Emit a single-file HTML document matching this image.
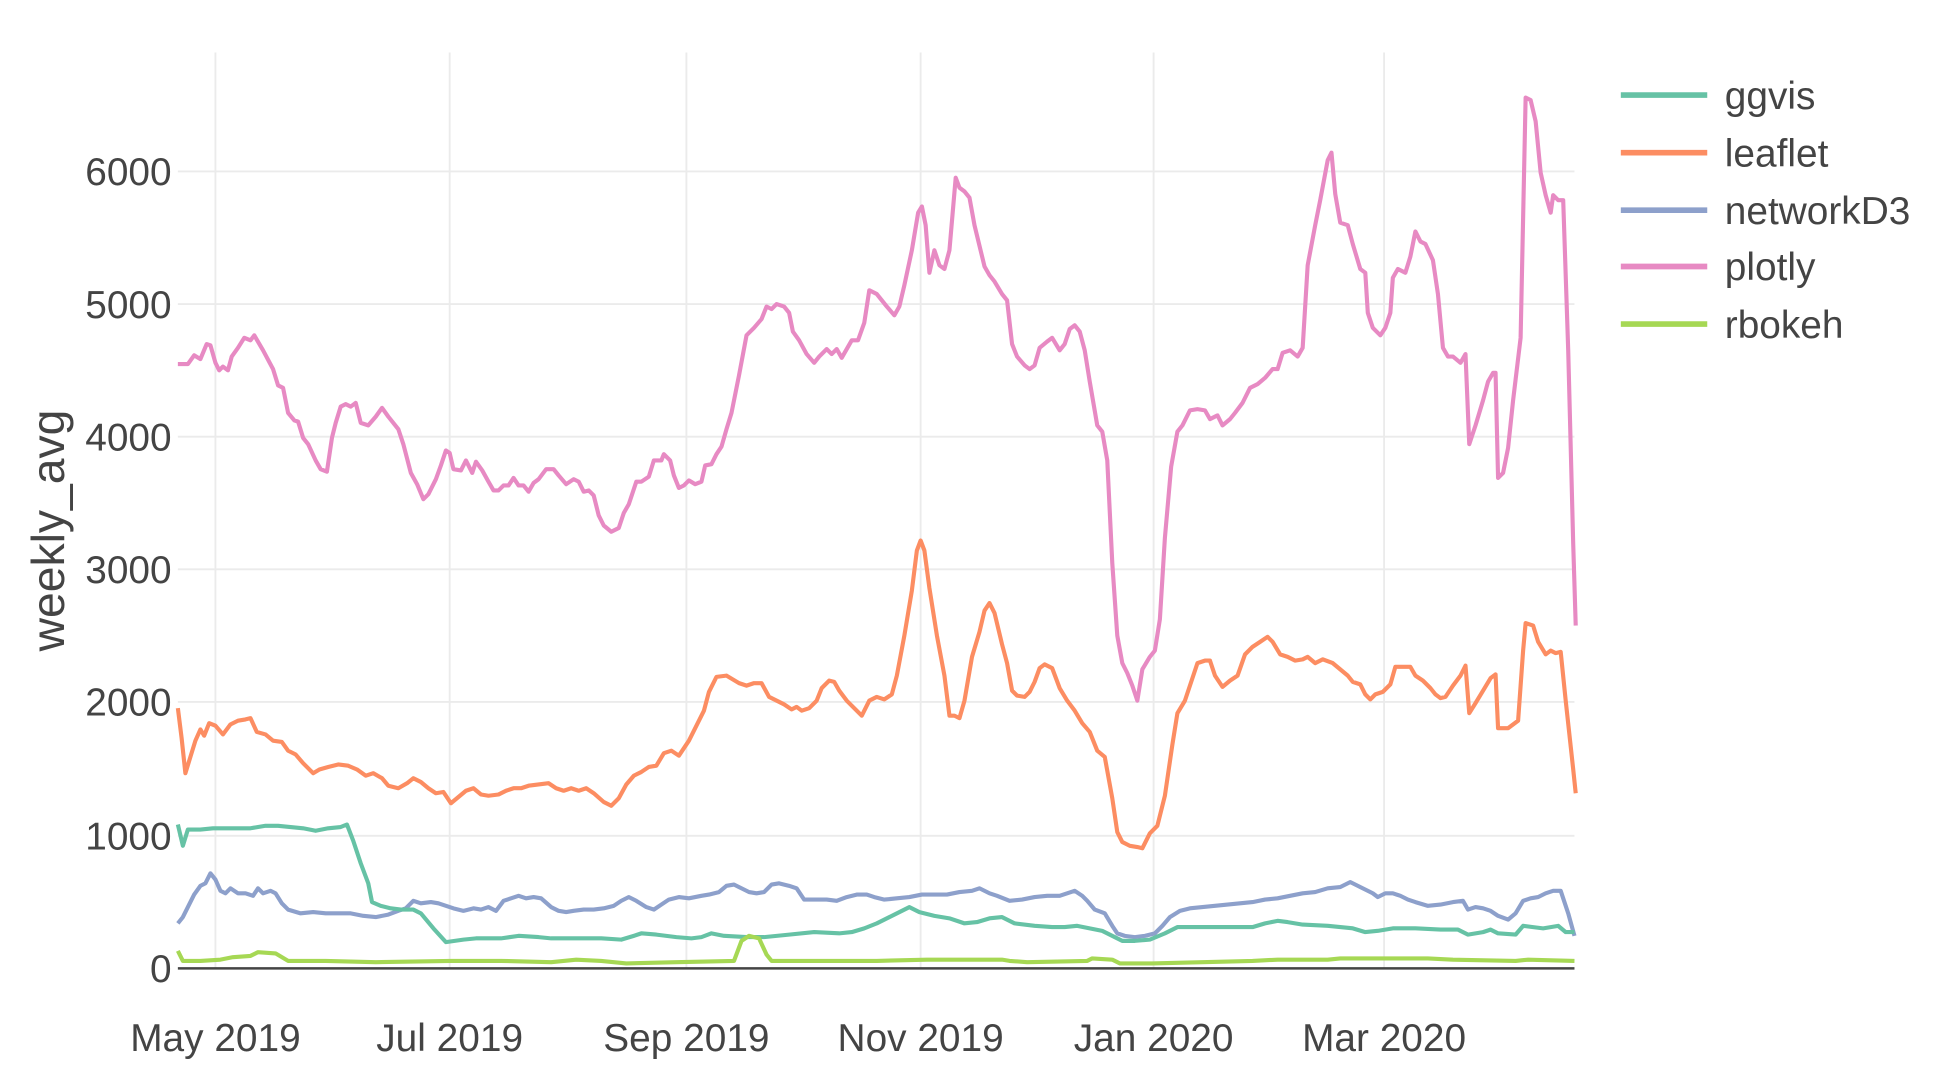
<!DOCTYPE html>
<html><head><meta charset="utf-8"><style>html,body{margin:0;padding:0;background:#fff;overflow:hidden}svg{display:block}</style></head>
<body>
<svg width="1954" height="1076" viewBox="0 0 1560 860" preserveAspectRatio="none" xmlns="http://www.w3.org/2000/svg" font-family="Liberation Sans, sans-serif">
<g stroke="#ebebeb" stroke-width="1.5">
<line x1="142" x2="1257" y1="668" y2="668"/><line x1="142" x2="1257" y1="561" y2="561"/><line x1="142" x2="1257" y1="455" y2="455"/><line x1="142" x2="1257" y1="349" y2="349"/><line x1="142" x2="1257" y1="243" y2="243"/><line x1="142" x2="1257" y1="137" y2="137"/>
<line x1="172" x2="172" y1="42" y2="774"/><line x1="359" x2="359" y1="42" y2="774"/><line x1="548" x2="548" y1="42" y2="774"/><line x1="735" x2="735" y1="42" y2="774"/><line x1="921" x2="921" y1="42" y2="774"/><line x1="1105" x2="1105" y1="42" y2="774"/>
</g>
<g fill="none" stroke-width="3.3" stroke-linejoin="round">
<polyline stroke="#e78ac3" points="142,291 150,291 155,284 160,287 165,275 168,276 172,290 175,296 178,293 182,296 185,285 190,278 195,270 200,272 203,268 210,280 218,295 222,308 226,310 230,330 235,336 238,337 242,350 246,355 252,368 256,375 261,377 265,350 268,338 272,325 276,323 280,325 284,322 288,338 294,340 300,333 305,326 310,333 318,343 322,355 328,378 333,387 338,399 342,395 348,383 352,372 356,360 359,362 362,375 368,376 372,368 377,378 380,369 385,376 390,385 394,392 398,392 402,388 406,388 410,382 414,388 418,388 422,393 426,386 430,383 436,375 442,375 446,380 452,387 458,383 462,385 466,393 470,392 474,396 478,412 482,420 488,425 494,422 498,410 502,403 508,385 512,385 518,381 522,368 528,368 530,363 535,368 538,380 542,390 546,388 550,384 555,387 560,385 563,372 568,371 572,363 576,357 580,343 584,330 590,300 596,268 602,262 608,255 612,245 616,247 620,243 626,245 630,250 633,265 638,272 644,283 650,290 654,285 660,279 664,283 668,279 672,286 680,272 685,272 690,258 694,232 700,235 708,245 714,252 718,245 722,228 728,200 733,170 736,165 739,180 742,218 746,200 750,212 754,215 758,200 763,142 766,150 770,153 774,158 778,180 786,213 790,220 794,225 800,235 804,240 808,275 812,285 818,292 822,295 826,292 830,278 836,273 840,270 846,280 850,275 854,263 858,260 862,265 866,280 870,305 876,340 880,345 884,368 888,450 892,508 896,530 900,538 904,548 908,560 912,535 918,525 922,520 926,495 930,430 935,373 940,345 944,340 950,328 956,327 962,328 966,335 972,332 976,340 982,335 986,330 992,322 998,310 1004,307 1010,302 1016,295 1020,295 1024,282 1030,280 1036,285 1040,278 1044,212 1050,180 1054,160 1060,128 1063,122 1066,155 1070,178 1076,180 1080,195 1086,215 1090,218 1092,250 1096,262 1102,268 1106,262 1110,250 1112,222 1116,215 1122,218 1126,205 1130,185 1134,193 1138,195 1144,208 1148,235 1152,278 1156,285 1160,285 1166,290 1170,283 1173,355 1178,340 1184,320 1188,305 1192,298 1194,298 1196,382 1200,378 1204,358 1208,320 1214,270 1218,78 1222,80 1226,97 1230,138 1234,156 1238,170 1240,156 1244,160 1248,160 1252,280 1256,435 1258,500"/>
<polyline stroke="#fc8d62" points="142,566 145,590 148,618 152,605 156,592 160,583 163,588 167,578 172,580 178,587 184,579 190,576 196,575 200,574 205,585 212,587 218,592 225,593 230,600 236,603 242,610 250,618 255,615 262,613 270,611 278,612 285,615 292,620 298,618 305,622 310,628 318,630 325,626 330,622 336,625 342,630 348,634 354,633 360,642 366,637 372,632 378,630 384,635 390,636 398,635 404,632 410,630 416,630 422,628 430,627 438,626 444,630 450,632 456,630 462,632 468,630 474,634 482,641 488,644 494,638 500,627 506,620 512,617 518,613 524,612 530,602 536,600 542,604 550,592 556,580 562,568 566,553 572,541 580,540 585,543 590,546 596,548 602,546 608,546 614,557 620,560 626,563 632,567 636,565 640,568 646,566 652,560 656,550 662,544 666,545 670,552 676,560 682,566 688,572 694,560 700,557 706,559 712,555 716,540 722,508 728,472 732,440 735,432 738,440 742,470 748,508 754,540 758,572 762,572 766,574 770,560 776,525 782,505 786,488 790,482 794,490 800,515 804,530 808,552 812,556 818,557 822,553 826,545 830,534 834,531 840,534 846,550 852,560 858,568 864,578 870,585 876,600 882,605 888,638 892,665 896,673 902,676 908,677 912,678 918,666 924,660 930,636 936,595 940,570 946,560 950,548 956,530 962,528 966,528 970,540 976,549 982,544 988,540 994,523 1000,517 1006,513 1012,509 1016,513 1022,523 1028,525 1034,528 1040,527 1044,525 1050,530 1056,527 1064,530 1070,535 1076,540 1080,545 1086,547 1090,555 1094,559 1098,555 1104,553 1110,547 1114,533 1120,533 1126,533 1130,540 1136,544 1142,550 1146,555 1150,558 1154,557 1160,548 1166,540 1170,532 1173,570 1178,562 1184,552 1190,542 1194,539 1196,582 1204,582 1212,576 1216,520 1218,498 1224,500 1228,513 1234,523 1238,520 1242,522 1246,521 1250,560 1256,615 1258,634"/>
<polyline stroke="#8da0cb" points="142,738 146,733 150,725 155,715 160,708 164,706 168,698 172,703 176,712 180,714 184,710 190,714 196,714 202,716 206,710 210,714 216,712 220,714 225,722 230,727 240,730 250,729 260,730 270,730 280,730 290,732 300,733 310,731 318,728 324,726 330,720 336,722 344,721 350,722 356,724 362,726 370,728 378,726 384,727 390,725 396,728 402,720 408,718 414,716 420,718 426,717 432,718 440,725 446,728 452,729 458,728 466,727 474,727 482,726 490,724 496,720 502,717 508,720 516,725 522,727 528,723 534,719 542,717 550,718 560,716 566,715 574,713 580,708 586,707 592,710 598,713 604,714 610,713 616,707 622,706 630,708 636,710 642,719 650,719 660,719 668,720 676,717 684,715 692,715 698,717 706,719 716,718 726,717 736,715 746,715 756,715 766,713 776,712 782,710 790,714 796,716 806,720 816,719 826,717 836,716 846,716 852,714 858,712 864,716 868,720 874,727 882,730 888,740 892,746 898,748 906,749 914,748 922,746 928,740 934,733 942,728 950,726 960,725 970,724 980,723 990,722 1000,721 1010,719 1020,718 1030,716 1040,714 1050,713 1060,710 1070,709 1078,705 1084,708 1090,711 1096,714 1100,717 1106,714 1112,714 1118,716 1124,719 1130,721 1140,724 1150,723 1160,721 1168,720 1172,727 1178,725 1184,726 1190,728 1196,732 1204,735 1210,730 1216,720 1222,718 1228,717 1234,714 1240,712 1246,712 1252,730 1257,748"/>
<polyline stroke="#66c2a5" points="142,659 146,676 150,663 160,663 170,662 185,662 200,662 212,660 222,660 232,661 242,662 252,664 262,662 272,661 277,659 282,672 288,690 294,706 297,721 304,724 312,726 320,727 330,727 336,730 346,742 356,753 370,751 380,750 400,750 414,748 430,749 440,750 460,750 480,750 496,751 506,748 512,746 524,747 540,749 552,750 560,749 568,746 578,748 596,749 610,749 630,747 650,745 670,746 680,745 690,742 700,738 710,733 720,728 726,725 734,729 746,732 758,734 770,738 780,737 790,734 800,733 810,738 826,740 840,741 850,741 860,740 870,742 880,744 888,748 896,752 906,752 918,751 930,746 940,741 960,741 980,741 1000,741 1010,738 1020,736 1028,737 1040,739 1060,740 1080,742 1090,745 1100,744 1112,742 1130,742 1150,743 1164,743 1172,747 1184,745 1190,743 1196,746 1210,747 1216,740 1224,741 1232,742 1244,740 1250,745 1257,745"/>
<polyline stroke="#a6d854" points="142,760 146,768 160,768 176,767 186,765 200,764 206,761 220,762 230,768 260,768 300,769 360,768 400,768 440,769 460,767 480,768 500,770 540,769 586,768 592,752 598,748 606,750 612,763 616,768 650,768 700,768 740,767 800,767 806,768 820,769 868,768 872,766 888,767 894,770 920,770 960,769 1000,768 1020,767 1060,767 1070,766 1140,766 1160,767 1210,768 1220,767 1257,768"/>
</g>
<line x1="142" x2="1257" y1="774" y2="774" stroke="#444" stroke-width="2"/>
<g fill="#444" font-size="31" text-anchor="end">
<text x="137" y="785">0</text><text x="137" y="679">1000</text><text x="137" y="572">2000</text><text x="137" y="466">3000</text><text x="137" y="360">4000</text><text x="137" y="254">5000</text><text x="137" y="148">6000</text>
</g>
<g fill="#444" font-size="31" text-anchor="middle">
<text x="172" y="840">May 2019</text><text x="359" y="840">Jul 2019</text><text x="548" y="840">Sep 2019</text><text x="735" y="840">Nov 2019</text><text x="921" y="840">Jan 2020</text><text x="1105" y="840">Mar 2020</text>
</g>
<text transform="translate(51,424) rotate(-90)" fill="#444" font-size="37" text-anchor="middle">weekly_avg</text>
<g stroke-width="4.5">
<line x1="1294" x2="1363" y1="76" y2="76" stroke="#66c2a5"/><line x1="1294" x2="1363" y1="122" y2="122" stroke="#fc8d62"/><line x1="1294" x2="1363" y1="168" y2="168" stroke="#8da0cb"/><line x1="1294" x2="1363" y1="213" y2="213" stroke="#e78ac3"/><line x1="1294" x2="1363" y1="259" y2="259" stroke="#a6d854"/>
</g>
<g fill="#444" font-size="31">
<text x="1377" y="87">ggvis</text><text x="1377" y="133">leaflet</text><text x="1377" y="179">networkD3</text><text x="1377" y="224">plotly</text><text x="1377" y="270">rbokeh</text>
</g>
</svg>
</body></html>
